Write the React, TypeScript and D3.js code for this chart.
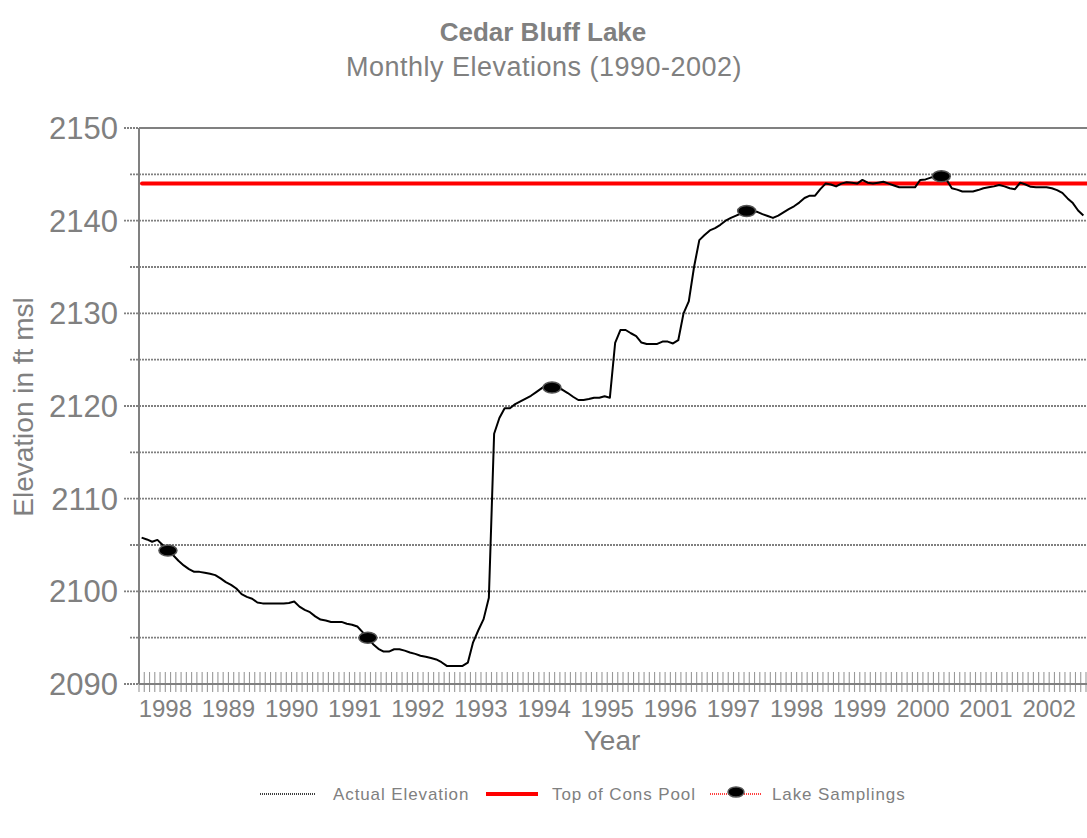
import React from 'react';
import * as d3 from 'd3';

const WIDTH = 1087;
const HEIGHT = 838;

// year labels as printed on the original axis (first one reads 1998)
const yearLabels = [
  "1998", "1989", "1990", "1991", "1992", "1993", "1994", "1995",
  "1996", "1997", "1998", "1999", "2000", "2001", "2002",
];

// monthly elevations, Jan 1988 .. Dec 2002
const elevation = [
  2105.8, 2105.6, 2105.35, 2105.55, 2105.0, 2104.5, 2103.9, 2103.3, 2102.8, 2102.4, 2102.1, 2102.1,
  2102.0, 2101.9, 2101.75, 2101.4, 2101.0, 2100.7, 2100.3, 2099.7, 2099.4, 2099.2, 2098.8, 2098.7,
  2098.7, 2098.7, 2098.7, 2098.7, 2098.75, 2098.9, 2098.35, 2098.0, 2097.75, 2097.3, 2096.95, 2096.85,
  2096.7, 2096.7, 2096.7, 2096.5, 2096.4, 2096.2, 2095.6, 2095.0, 2094.3, 2093.8, 2093.5, 2093.5,
  2093.75, 2093.75, 2093.6, 2093.4, 2093.25, 2093.05, 2092.95, 2092.8, 2092.65, 2092.35, 2091.95, 2091.95,
  2091.95, 2091.95, 2092.3, 2094.5, 2095.8, 2097.0, 2099.3, 2117.0, 2118.7, 2119.75, 2119.75, 2120.2,
  2120.5, 2120.8, 2121.1, 2121.5, 2121.9, 2122.3, 2122.1, 2122.0, 2121.75, 2121.4, 2121.0, 2120.65,
  2120.65, 2120.75, 2120.9, 2120.9, 2121.05, 2120.9, 2126.8, 2128.2, 2128.2, 2127.85, 2127.55, 2126.85,
  2126.7, 2126.7, 2126.7, 2126.95, 2126.95, 2126.75, 2127.1, 2130.0, 2131.3, 2135.0, 2137.9, 2138.45,
  2138.95, 2139.2, 2139.55, 2140.0, 2140.3, 2140.55, 2140.8, 2141.05, 2141.0, 2140.95, 2140.7, 2140.5,
  2140.3, 2140.55, 2140.9, 2141.25, 2141.55, 2141.95, 2142.45, 2142.7, 2142.7, 2143.4, 2144.0, 2143.9,
  2143.7, 2144.0, 2144.15, 2144.1, 2144.0, 2144.4, 2144.1, 2144.0, 2144.1, 2144.2, 2144.0, 2143.8,
  2143.6, 2143.6, 2143.6, 2143.6, 2144.4, 2144.45, 2144.65, 2144.75, 2144.8, 2144.4, 2143.5, 2143.35,
  2143.15, 2143.15, 2143.15, 2143.3, 2143.5, 2143.6, 2143.7, 2143.85, 2143.7, 2143.5, 2143.4, 2144.1,
  2143.9, 2143.65, 2143.6, 2143.6, 2143.6, 2143.5, 2143.3, 2143.0, 2142.4, 2141.9, 2141.1, 2140.55,
];

// lake sampling dates (month index) and elevations
const samplingMonths = [5, 43, 78, 115, 152];
const samplingValues = [2104.4, 2095.0, 2122.0, 2141.05, 2144.8];

const consPool = 2144;
const yTicks = [2090, 2100, 2110, 2120, 2130, 2140, 2150];
const yGrid = [2095, 2105, 2115, 2125, 2135, 2145];

const GRAY = '#808080';
const FONT = '"Liberation Sans", Arial, sans-serif';

export default function App() {
  const margin = { top: 128, right: 1, bottom: 154, left: 139 };
  const innerW = WIDTH - margin.left - margin.right;
  const innerH = HEIGHT - margin.top - margin.bottom;

  const months = d3.range(elevation.length);
  const x = d3.scaleBand<number>().domain(months).range([0, innerW]);
  const bw = x.bandwidth();
  const cx = (i: number) => (x(i) as number) + bw / 2;
  const y = d3.scaleLinear().domain([2090, 2150]).range([innerH, 0]);

  const line = d3.line<number>()
    .x((_, i) => cx(i))
    .y(d => y(d));

  const tickXs = d3.range(elevation.length + 1).map(k => k * bw);

  return (
    <svg width={WIDTH} height={HEIGHT} style={{ position: 'absolute', left: 0, top: 0, background: '#fff' }}
      fontFamily={FONT}>
      <text x={543} y={41} textAnchor="middle" fontSize={26} fontWeight="bold" fill={GRAY}>Cedar Bluff Lake</text>
      <text x={544} y={76} textAnchor="middle" fontSize={27} fill={GRAY} letterSpacing={0.5}>Monthly Elevations (1990-2002)</text>

      <g transform={`translate(${margin.left},${margin.top})`}>
        {/* minor grid */}
        {yGrid.map(v => (
          <line key={'g' + v} x1={-9} x2={innerW + 1} y1={y(v)} y2={y(v)}
            stroke={GRAY} strokeWidth={1.8} strokeDasharray="2,1" />
        ))}
        {/* major grid */}
        {yTicks.filter(v => v !== 2090 && v !== 2150).map(v => (
          <line key={'m' + v} x1={-15} x2={innerW + 1} y1={y(v)} y2={y(v)}
            stroke={GRAY} strokeWidth={1.8} strokeDasharray="2,1" />
        ))}
        <line x1={-15} x2={0} y1={0} y2={0} stroke={GRAY} strokeWidth={1.8} strokeDasharray="2,1" />
        <line x1={0} x2={innerW + 1} y1={0} y2={0} stroke={GRAY} strokeWidth={2} />
        {yTicks.map(v => (
          <text key={'t' + v} x={-21} y={y(v)} dy="0.35em" textAnchor="end" fontSize={31} fill={GRAY}>{v}</text>
        ))}

        {/* x axis ticks, one per month */}
        {tickXs.map((tx, k) => (
          <line key={'xt' + k} x1={tx} x2={tx} y1={innerH - 12} y2={innerH + 8}
            stroke="#999" strokeWidth={1.1} />
        ))}
        <line x1={-15} x2={0} y1={innerH} y2={innerH} stroke={GRAY} strokeWidth={2} strokeDasharray="2,1" />
        <line x1={0} x2={innerW + 1} y1={innerH} y2={innerH} stroke={GRAY} strokeWidth={2} />
        <line x1={0} x2={0} y1={0} y2={innerH} stroke={GRAY} strokeWidth={2} />

        {yearLabels.map((lab, i) => (
          <text key={'yl' + i} x={x(i * 12 + 5) as number} y={innerH + 33} textAnchor="middle"
            fontSize={24} fill={GRAY}>{lab}</text>
        ))}

        <line x1={3} x2={innerW + 1} y1={y(consPool)} y2={y(consPool)}
          stroke="#ff0000" strokeWidth={4} strokeLinecap="round" />

        <path d={line(elevation) || ''} fill="none" stroke="#000" strokeWidth={2} strokeLinejoin="round" />

        {samplingMonths.map((m, i) => (
          <ellipse key={'s' + i} cx={cx(m)} cy={y(samplingValues[i])} rx={9} ry={5.5}
            fill="#000" stroke="#555" strokeWidth={1.5} />
        ))}
      </g>

      <text x={612} y={750} textAnchor="middle" fontSize={28} fill={GRAY}>Year</text>
      <text transform="translate(33,407) rotate(-90)" textAnchor="middle" fontSize={28} fill={GRAY}>Elevation in ft msl</text>

      {/* legend */}
      <g>
        <line x1={260} x2={315} y1={794} y2={794} stroke="#000" strokeWidth={1.5} strokeDasharray="1,1" />
        <text x={333} y={800} fontSize={17} fill={GRAY} letterSpacing={0.9}>Actual Elevation</text>
        <line x1={486} x2={538} y1={794} y2={794} stroke="#ff0000" strokeWidth={4} />
        <text x={552} y={800} fontSize={17} fill={GRAY} letterSpacing={0.9}>Top of Cons Pool</text>
        <line x1={710} x2={762} y1={794} y2={794} stroke="#ff0000" strokeWidth={1.5} strokeDasharray="1,1" />
        <ellipse cx={736} cy={792} rx={8} ry={5} fill="#000" stroke="#555" strokeWidth={1.5} />
        <text x={772} y={800} fontSize={17} fill={GRAY} letterSpacing={0.9}>Lake Samplings</text>
      </g>
    </svg>
  );
}
